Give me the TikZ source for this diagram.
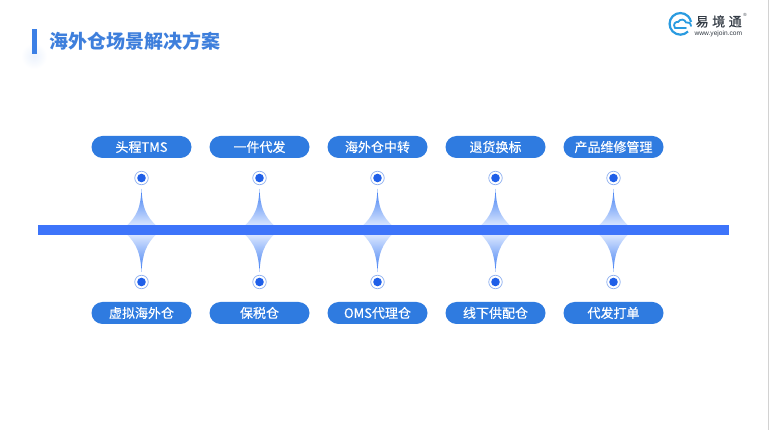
\documentclass[tikz,border=0pt]{standalone}
\usepackage{fontspec}
\setmainfont{Noto Sans CJK SC}
\newfontfamily\pillfont[FakeBold=0.35]{Noto Sans CJK SC}
\newfontfamily\logofont[FakeBold=0.5]{Noto Sans CJK SC}
\newfontfamily\latinf{Liberation Sans}
\definecolor{pillblue}{HTML}{2F7BE0}
\definecolor{barblue}{HTML}{3D74FA}
\definecolor{dotblue}{HTML}{1F5FE8}
\definecolor{ringblue}{HTML}{8FB0F0}
\definecolor{titleblue}{HTML}{3E7FDC}
\definecolor{accentblue}{HTML}{3C80E6}
\definecolor{spikedark}{HTML}{3F7DF2}
\definecolor{spikemid}{HTML}{9DBDF8}
\definecolor{spikelight}{HTML}{DCE8FF}
\definecolor{logoblue}{HTML}{2A9BE0}
\definecolor{logogrey}{HTML}{333B45}
\tikzset{
  pill/.style={fill=pillblue,rounded corners=11pt,minimum width=100pt,minimum height=22pt,inner sep=0pt,text=white,font=\pillfont\fontsize{13}{13}\selectfont,draw=none},
  dotcore/.style={circle,fill=dotblue,minimum size=8.6pt,inner sep=0pt},
  dotring/.style={circle,draw=ringblue,line width=0.7pt,fill=white,minimum size=13.5pt,inner sep=0pt},
}
\begin{document}
\begin{tikzpicture}[x=1pt,y=-1pt]
\useasboundingbox (0,0) rectangle (769,430);
\fill[white] (0,0) rectangle (769,430);
\fill[gray!35] (767.6,0) rectangle (769,430);
% soft glow below accent
\shade[inner color=accentblue!10,outer color=white,draw=none] (34,56) circle (13);
\fill[accentblue] (31.5,29) rectangle (36.5,54);
\node[anchor=west,text=titleblue,inner sep=0pt,font=\fontsize{19}{19}\selectfont\bfseries] (title) at (49,41) {海外仓场景解决方案};
% logo
\draw[logoblue,line width=2.2pt] (688,31.5) arc[start angle=45,end angle=350,radius=10.8];
\draw[logoblue,line width=1.8pt,line cap=round] (675,28) .. controls (672.5,24) and (675.5,21.5) .. (678,22) .. controls (680,18.5) and (685,19) .. (686,22.5) .. controls (688,21.5) and (691,23) .. (691,26);
\draw[logoblue,line width=1.8pt,line cap=round] (675,28) -- (686,28);
\node[anchor=west,inner sep=0pt,text=logogrey,font=\logofont\fontsize{13}{13}\selectfont] (logotext) at (695.5,21.5) {易\hspace{3.5pt}境\hspace{3.5pt}通};
\node[anchor=west,inner sep=0pt,text=logogrey,font=\latinf\fontsize{6.6}{6.6}\selectfont] (logourl) at (694.5,33.3) {www.yejoin.com};
\node[inner sep=0pt,text=logogrey,font=\latinf\fontsize{4.5}{4.5}\selectfont] (logor) at (745,15) {®};
% spikes
\foreach \x in {141.5,259.5,377.5,495.5,613.5}{
  \shade[top color=spikedark,middle color=spikemid,bottom color=spikelight,draw=none]
    (\x,189) .. controls (\x+1,209) and (\x+5,216) .. (\x+15,226)
    -- (\x-15,226) .. controls (\x-5,216) and (\x-1,209) .. (\x,189) -- cycle;
  \shade[top color=spikelight,middle color=spikemid,bottom color=spikedark,draw=none]
    (\x,272) .. controls (\x+1,253) and (\x+5,244) .. (\x+15,234)
    -- (\x-15,234) .. controls (\x-5,244) and (\x-1,253) .. (\x,272) -- cycle;
}
% main bar
\fill[barblue] (37.5,225) rectangle (728.5,234.7);
% dots and pills
\foreach \x/\n/\t/\b in {141.5/a/头程TMS/虚拟海外仓,259.5/b/一件代发/保税仓,377.5/c/海外仓中转/OMS代理仓,495.5/d/退货换标/线下供配仓,613.5/e/产品维修管理/代发打单}{
  \node[pill] (top\n) at (\x,147) {\t};
  \node[pill] (bot\n) at (\x,313) {\b};
  \node[dotring] (ringt\n) at (\x,178) {};
  \node[dotcore] (coret\n) at (\x,178) {};
  \node[dotring] (ringb\n) at (\x,282) {};
  \node[dotcore] (coreb\n) at (\x,282) {};
}
\end{tikzpicture}
\end{document}
